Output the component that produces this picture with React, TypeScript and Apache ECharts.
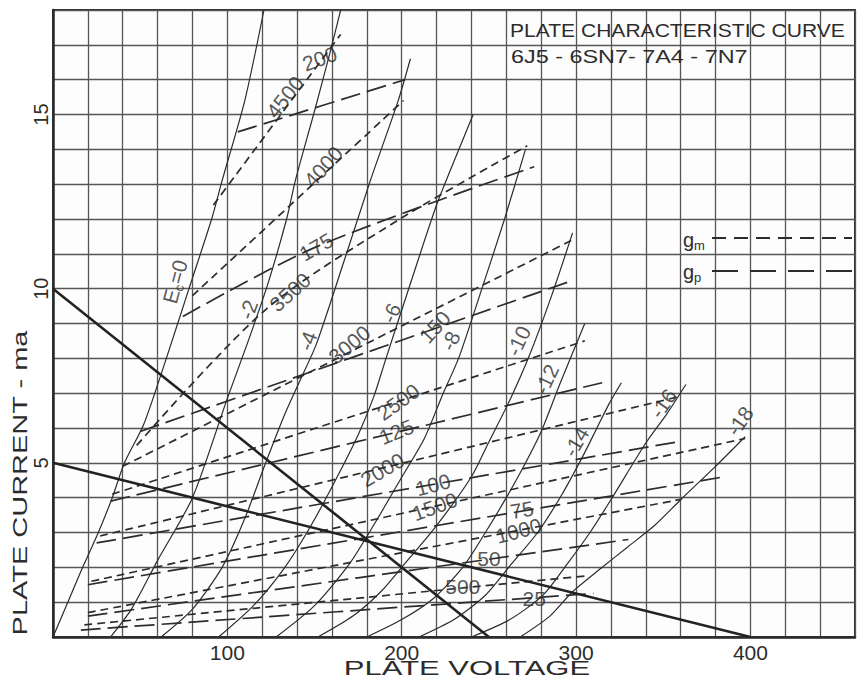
import React, { useEffect, useRef } from "react";
import * as echarts from "echarts";

// ---- axes ----
const X_MIN = 0;
const X_MAX = 460;
const X_STEP = 20;
const Y_MIN = 0;
const Y_MAX = 18;
const Y_STEP = 1;
const X_TICK_LABELS = [100, 200, 300, 400];
const Y_TICK_LABELS = [5, 10, 15];

// ---- plate curves (plate voltage V, plate current mA) ----
const EC_0 = [[0, 0], [8.5, 1], [17, 2], [26, 3], [34, 4], [41, 5], [52, 6.1], [65, 8], [78, 10], [91, 12], [97, 13.1], [110, 15.4], [121, 18]];
const EC_2 = [[33, 0], [45, 0.8], [60, 2.2], [80, 4], [100, 6.85], [112, 8.5], [123, 10.1], [134, 12], [139, 13.1], [150, 15.1], [159, 16.8], [165, 18]];
const EC_4 = [[62, 0], [80, 0.8], [97, 2.0], [110, 3.4], [122, 5.0], [133, 6.4], [142, 7.4], [151, 8.4], [167, 10.8], [182, 13.1], [198, 15.4], [205, 16.6]];
const EC_6 = [[95, 0], [115, 0.9], [133, 2.0], [148, 3.2], [162, 4.5], [175, 5.8], [184, 6.9], [191, 8.0], [206, 10.3], [220, 12.4], [232, 13.9], [241, 15.0]];
const EC_8 = [[128, 0], [150, 0.9], [170, 2.1], [185, 3.3], [199, 4.5], [213, 5.7], [223, 6.9], [233, 8.05], [246, 10], [259, 12], [271, 14]];
const EC_10 = [[152, 0], [172, 0.6], [188, 1.3], [200, 2.0], [220, 3.2], [240, 4.6], [250, 5.6], [262, 6.8], [273, 8.05], [286, 9.8], [298, 11.6]];
const EC_12 = [[180, 0], [200, 0.5], [218, 1.1], [235, 2.0], [248, 3.0], [260, 4.0], [270, 4.9], [280, 5.9], [291, 7.3], [305, 9.0]];
const EC_14 = [[210, 0], [230, 0.5], [248, 1.2], [263, 2.1], [278, 3.0], [292, 4.1], [304, 5.2], [312, 6.0], [319, 6.7], [326, 7.3]];
const EC_16 = [[240, 0], [262, 0.5], [281, 1.2], [295, 2.1], [308, 3.0], [320, 3.94], [340, 5.57], [352, 6.4], [363, 7.25]];
const EC_18 = [[268, 0], [285, 0.6], [298, 1.3], [315, 2.0], [330, 2.6], [345, 3.2], [360, 3.94], [380, 4.9], [397, 5.75]];
const PLATE_CURVES = [EC_0, EC_2, EC_4, EC_6, EC_8, EC_10, EC_12, EC_14, EC_16, EC_18];

// ---- constant transconductance lines g_m (µmho) ----
const GM_500 = [[18, 0.35], [305, 1.75]];
const GM_1000 = [[20, 0.7], [360, 3.95]];
const GM_1500 = [[22, 1.6], [397, 5.7]];
const GM_2000 = [[27, 2.9], [359, 6.9]];
const GM_2500 = [[34, 4.1], [305, 8.5]];
const GM_3000 = [[40, 4.9], [298, 11.4]];
const GM_3500 = [[48, 5.5], [122, 9.4], [199, 12.0], [272, 14.1]];
const GM_4000 = [[80, 9.8], [201, 15.4]];
const GM_4500 = [[92, 12.4], [165, 17.3]];
const GM_LINES = [GM_500, GM_1000, GM_1500, GM_2000, GM_2500, GM_3000, GM_3500, GM_4000, GM_4500];

// ---- constant plate conductance lines g_p ----
const GP_25 = [[16, 0.2], [310, 1.25]];
const GP_50 = [[20, 0.6], [330, 2.8]];
const GP_75 = [[20, 1.5], [385, 4.6]];
const GP_100 = [[25, 2.7], [358, 5.6]];
const GP_125 = [[33, 3.9], [315, 7.3]];
const GP_150 = [[50, 5.9], [296, 10.2]];
const GP_175 = [[74.5, 9.2], [151, 11.2], [276, 13.5]];
const GP_200 = [[106, 14.5], [202, 16.0]];
const GP_LINES = [GP_25, GP_50, GP_75, GP_100, GP_125, GP_150, GP_175, GP_200];

// ---- load lines ----
const LOAD_A = [[0, 10], [250, 0]];
const LOAD_B = [[0, 5], [400, 0]];

// ---- labels: text, anchor [V, mA], rotation (deg) ----
const CURVE_LABEL_TEXT = ["E{s|c}=0", "-2", "-4", "-6", "-8", "-10", "-12", "-14", "-16", "-18"];
const CURVE_LABEL_AT = [[70, 10.2], [112, 9.4], [146, 8.5], [194, 9.3], [228, 8.5], [267, 8.5], [283, 7.4], [300, 5.6], [350, 6.7], [394, 6.2]];
const CURVE_LABEL_ROT = [75, 70, 70, 65, 65, 65, 65, 60, 55, 55];

const GM_LABEL_TEXT = ["500", "1000", "1500", "2000", "2500", "3000", "3500", "4000", "4500"];
const GM_LABEL_AT = [[235, 1.45], [267, 3.05], [219, 3.75], [189, 4.8], [198, 6.75], [170, 8.4], [136, 9.9], [155, 13.5], [133, 15.5]];
const GM_LABEL_ROT = [0, 15, 20, 30, 35, 40, 42, 48, 52];

const GP_LABEL_TEXT = ["25", "50", "75", "100", "125", "150", "175", "200"];
const GP_LABEL_AT = [[276, 1.1], [250, 2.25], [269, 3.65], [218, 4.37], [197, 5.89], [219, 8.9], [151, 11.2], [153, 16.6]];
const GP_LABEL_ROT = [0, 0, 10, 15, 22, 48, 30, 20];

const TITLE_1 = "PLATE CHARACTERISTIC CURVE";
const TITLE_2 = "6J5 - 6SN7- 7A4 - 7N7";
const X_NAME = "PLATE VOLTAGE";
const Y_NAME = "PLATE CURRENT - ma";

export default function App() {
  const ref = useRef<HTMLDivElement>(null);
  useEffect(() => {
    const chart = echarts.init(ref.current!, null, { renderer: "svg" });
    const ink = "#2c2c2c";
    const font = '"Liberation Sans", Arial, sans-serif';
    const series: any[] = [];
    PLATE_CURVES.forEach((d, k) =>
      series.push({
        type: "line", name: "Ec" + k, data: d, showSymbol: false, smooth: 0.25,
        lineStyle: { color: ink, width: 1.2 }, silent: true, z: 3,
      })
    );
    GM_LINES.forEach((d, k) =>
      series.push({
        type: "line", name: "gm" + k, data: d, showSymbol: false, smooth: 0.3,
        lineStyle: { color: ink, width: 1.7, type: [8, 5] }, silent: true, z: 3,
      })
    );
    GP_LINES.forEach((d, k) =>
      series.push({
        type: "line", name: "gp" + k, data: d, showSymbol: false, smooth: 0.3,
        lineStyle: { color: ink, width: 1.7, type: [20, 7] }, silent: true, z: 3,
      })
    );
    [LOAD_A, LOAD_B].forEach((d, k) =>
      series.push({
        type: "line", name: "load" + k, data: d, showSymbol: false,
        lineStyle: { color: "#222", width: 2.6 }, silent: true, z: 4,
      })
    );
    const mk = (texts: string[], at: number[][], rot: number[]) =>
      texts.map((t, k) => ({
        value: at[k],
        label: {
          formatter: t, rotate: rot[k],
          rich: { s: { fontSize: 13, fontFamily: font, color: ink, padding: [11, 0, 0, 0] } },
        },
      }));
    series.push({
      type: "scatter", name: "labels", symbolSize: 0, silent: true, z: 6,
      data: [
        ...mk(CURVE_LABEL_TEXT, CURVE_LABEL_AT, CURVE_LABEL_ROT),
        ...mk(GM_LABEL_TEXT, GM_LABEL_AT, GM_LABEL_ROT),
        ...mk(GP_LABEL_TEXT, GP_LABEL_AT, GP_LABEL_ROT),
      ],
      label: { show: true, position: "inside", color: ink, fontSize: 21, fontFamily: font },
    });

    chart.setOption({
      animation: false,
      backgroundColor: "#ffffff",
      grid: {
        show: true, left: 53, right: 5, top: 10, bottom: 46,
        borderColor: ink, borderWidth: 2, backgroundColor: "#fdfdfd",
      },
      xAxis: {
        type: "value", min: X_MIN, max: X_MAX, interval: X_STEP,
        axisLine: { lineStyle: { color: ink, width: 2.5 } },
        axisTick: { show: false },
        splitLine: { lineStyle: { color: "#555", width: 1.3 } },
        axisLabel: {
          margin: 5, color: ink, fontSize: 21, fontFamily: font,
          formatter: (v: number) => (X_TICK_LABELS.includes(v) ? String(v) : ""),
        },
      },
      yAxis: {
        type: "value", min: Y_MIN, max: Y_MAX, interval: Y_STEP,
        axisLine: { lineStyle: { color: ink, width: 2.5 } },
        axisTick: { show: false },
        splitLine: { lineStyle: { color: "#555", width: 1.3 } },
        axisLabel: {
          margin: 2, rotate: 90, color: ink, fontSize: 20, fontFamily: font,
          formatter: (v: number) => (Y_TICK_LABELS.includes(v) ? String(v) : ""),
        },
      },
      series,
      graphic: [
        { type: "text", x: 510, y: 31, scaleX: 1.17, z: 10,
          style: { text: TITLE_1, fill: ink, font: `18px ${font}`, align: "left", verticalAlign: "middle" } },
        { type: "text", x: 511, y: 57, scaleX: 1.3, z: 10,
          style: { text: TITLE_2, fill: ink, font: `18px ${font}`, align: "left", verticalAlign: "middle" } },
        { type: "text", x: 467, y: 668, scaleX: 1.55, z: 10,
          style: { text: X_NAME, fill: ink, font: `20px ${font}`, align: "center", verticalAlign: "middle" } },
        { type: "text", x: 20, y: 483, rotation: Math.PI / 2, scaleX: 1.45, z: 10,
          style: { text: Y_NAME, fill: ink, font: `20px ${font}`, align: "center", verticalAlign: "middle" } },
        { type: "text", x: 683, y: 240, z: 10,
          style: { text: "g{s|m}", fill: ink, font: `20px ${font}`, align: "left", verticalAlign: "middle",
            rich: { s: { fontSize: 13, fontFamily: font, fill: ink, padding: [10, 0, 0, 0] } } } },
        { type: "line", z: 10, shape: { x1: 712, y1: 238, x2: 852, y2: 238 },
          style: { stroke: ink, lineWidth: 1.8, lineDash: [14, 8] } },
        { type: "text", x: 683, y: 272, z: 10,
          style: { text: "g{s|p}", fill: ink, font: `20px ${font}`, align: "left", verticalAlign: "middle",
            rich: { s: { fontSize: 13, fontFamily: font, fill: ink, padding: [10, 0, 0, 0] } } } },
        { type: "line", z: 10, shape: { x1: 712, y1: 271, x2: 852, y2: 271 },
          style: { stroke: ink, lineWidth: 1.8, lineDash: [26, 12] } },
      ],
    });
    return () => chart.dispose();
  }, []);
  return (
    <div
      ref={ref}
      style={{ position: "absolute", left: 0, top: 0, width: 860, height: 683, background: "#fff" }}
    />
  );
}
